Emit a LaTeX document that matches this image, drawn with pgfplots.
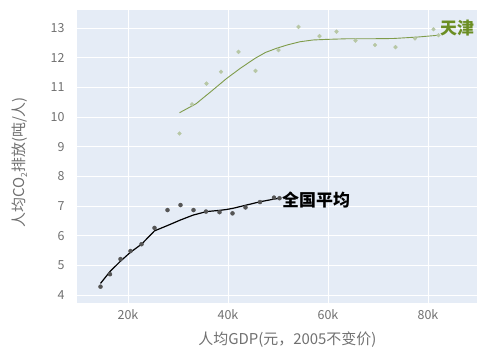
\documentclass[border=0pt]{standalone}
\usepackage{pgfplots}
\pgfplotsset{compat=1.18}
\usepackage{fontspec}
\setmainfont{Noto Sans CJK SC}
\definecolor{bgc}{HTML}{E5ECF6}
\definecolor{tickc}{HTML}{707070}
\definecolor{tjdot}{HTML}{B7C7A5}
\definecolor{tjline}{HTML}{7F9C4A}
\definecolor{tjlab}{HTML}{6B8E23}
\definecolor{natdot}{HTML}{555555}
\begin{document}
\begin{tikzpicture}[x=1bp,y=1bp]
\useasboundingbox (0,0) rectangle (477,351);
\begin{axis}[
  at={(77bp,48bp)}, anchor=south west,
  scale only axis, width=400bp, height=293bp,
  xmin=9.8, xmax=89.8, ymin=3.74, ymax=13.61,
  xtick={20,40,60,80}, xticklabels={20k,40k,60k,80k},
  ytick={4,5,6,7,8,9,10,11,12,13},
  grid=major, major grid style={white, line width=0.9bp},
  axis background/.style={fill=bgc},
  axis line style={draw=none}, tick style={draw=none},
  /pgf/number format/assume math mode=true,
  ticklabel style={font=\fontsize{12.5}{14}\selectfont, text=tickc},
  yticklabel style={xshift=-9bp},
  xticklabel style={yshift=-3bp},
  xlabel={人均GDP(元，2005不变价)},
  ylabel={人均CO\raisebox{-0.15em}{\fontsize{8.5}{9}\selectfont 2}排放(吨/人)},
  label style={font=\fontsize{15}{17}\selectfont, text=tickc},
  xlabel style={at={(axis description cs:0.526,-0.126)}, anchor=center},
  ylabel style={at={(axis description cs:-0.1425,0.48)}, anchor=center},
  clip=false,
]
% Tianjin points
\addplot[color=tjdot, only marks, mark=*, mark size=1.9bp, mark options={solid, draw=tjdot, fill=tjdot}] coordinates {
(30.3,9.45)(32.8,10.43)(35.7,11.13)(38.6,11.53)(42.1,12.2)(45.5,11.56)(50.1,12.26)(54.1,13.04)(58.3,12.73)(61.7,12.88)(65.5,12.58)(69.4,12.43)(73.5,12.36)(77.4,12.65)(81.1,12.96)(82.1,12.76)};
% Tianjin line
\addplot[tjline, line width=0.9bp, no marks] coordinates {
(30.3,10.15)(33.6,10.45)(36.5,10.85)(39.7,11.3)(42.5,11.65)(45.4,11.98)(47.5,12.18)(49.7,12.32)(52,12.44)(54.4,12.54)(57,12.6)(59.7,12.62)(63.6,12.64)(68,12.64)(73.1,12.65)(78,12.7)(82.1,12.76)};
% National points
\addplot[color=natdot, only marks, mark=*, mark size=2bp, mark options={solid, draw=natdot, fill=natdot}] coordinates {
(14.5,4.29)(16.4,4.71)(18.5,5.22)(20.5,5.49)(22.7,5.72)(25.3,6.27)(27.9,6.87)(30.5,7.04)(33.1,6.87)(35.6,6.82)(38.3,6.80)(40.9,6.76)(43.5,6.96)(46.4,7.14)(49.2,7.29)(50.3,7.27)};
% National line
\addplot[black, line width=1.2bp, no marks] coordinates {
(14.5,4.40)(16.4,4.80)(18.5,5.15)(20.5,5.45)(22.7,5.72)(25.3,6.17)(27.9,6.35)(30.4,6.53)(33,6.70)(35.7,6.82)(38.3,6.86)(39.7,6.89)(41,6.93)(43.7,7.04)(46.4,7.15)(49.2,7.24)(50.3,7.27)};
\node[anchor=west, inner sep=0pt, font=\fontsize{17}{19}\selectfont\bfseries, text=tjlab] at (axis cs:82.4,13.0) {天津};
\node[anchor=west, inner sep=0pt, font=\fontsize{17}{19}\selectfont\bfseries, text=black] at (axis cs:50.8,7.21) {全国平均};
\end{axis}
\end{tikzpicture}
\end{document}
